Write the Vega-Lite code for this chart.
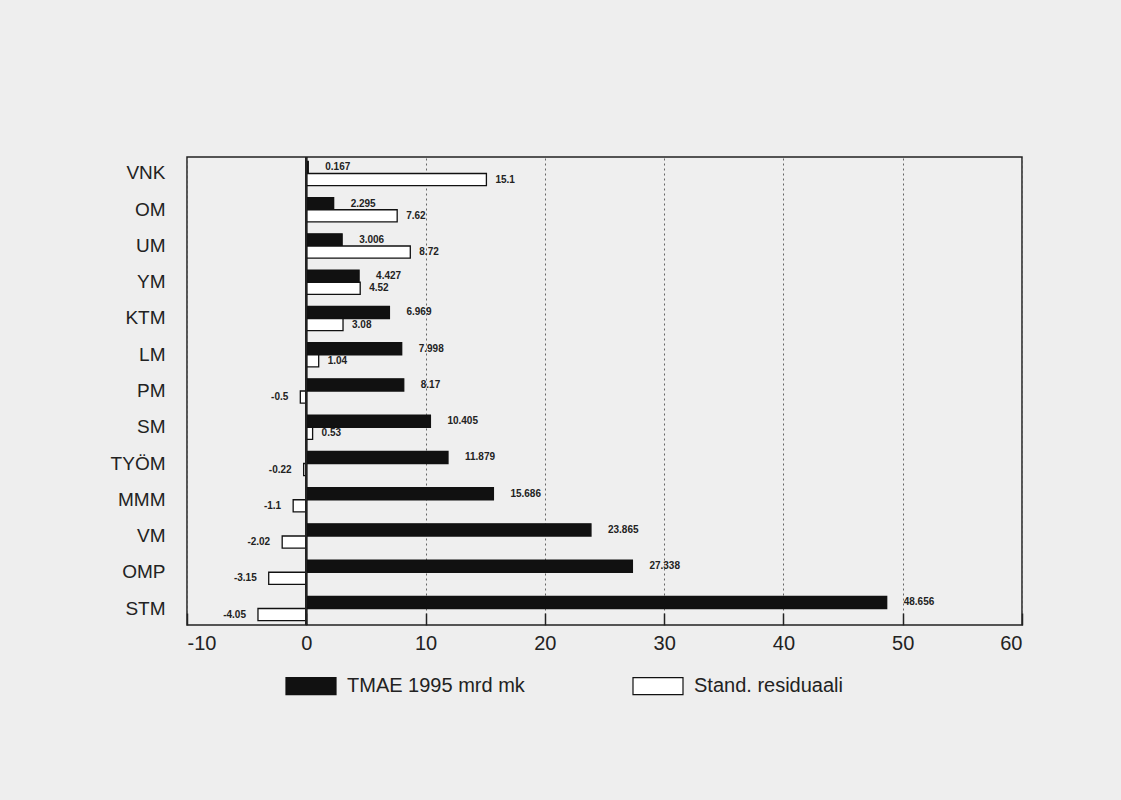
{
  "$schema": "https://vega.github.io/schema/vega-lite/v6.json",
  "width": 835,
  "height": 468,
  "autosize": {"type": "none"},
  "padding": {"left": 187, "top": 157, "right": 99, "bottom": 175},
  "background": "#eeeeee",
  "config": {
    "view": {"stroke": "#222222", "strokeWidth": 1.5, "fill": "#efefef"},
    "font": "Liberation Sans"
  },
  "data": {
    "values": [
      {"cat": "VNK", "series": "TMAE 1995 mrd mk", "value": 0.167},
      {"cat": "OM", "series": "TMAE 1995 mrd mk", "value": 2.295},
      {"cat": "UM", "series": "TMAE 1995 mrd mk", "value": 3.006},
      {"cat": "YM", "series": "TMAE 1995 mrd mk", "value": 4.427},
      {"cat": "KTM", "series": "TMAE 1995 mrd mk", "value": 6.969},
      {"cat": "LM", "series": "TMAE 1995 mrd mk", "value": 7.998},
      {"cat": "PM", "series": "TMAE 1995 mrd mk", "value": 8.17},
      {"cat": "SM", "series": "TMAE 1995 mrd mk", "value": 10.405},
      {"cat": "TYÖM", "series": "TMAE 1995 mrd mk", "value": 11.879},
      {"cat": "MMM", "series": "TMAE 1995 mrd mk", "value": 15.686},
      {"cat": "VM", "series": "TMAE 1995 mrd mk", "value": 23.865},
      {"cat": "OMP", "series": "TMAE 1995 mrd mk", "value": 27.338},
      {"cat": "STM", "series": "TMAE 1995 mrd mk", "value": 48.656},
      {"cat": "VNK", "series": "Stand. residuaali", "value": 15.1},
      {"cat": "OM", "series": "Stand. residuaali", "value": 7.62},
      {"cat": "UM", "series": "Stand. residuaali", "value": 8.72},
      {"cat": "YM", "series": "Stand. residuaali", "value": 4.52},
      {"cat": "KTM", "series": "Stand. residuaali", "value": 3.08},
      {"cat": "LM", "series": "Stand. residuaali", "value": 1.04},
      {"cat": "PM", "series": "Stand. residuaali", "value": -0.5},
      {"cat": "SM", "series": "Stand. residuaali", "value": 0.53},
      {"cat": "TYÖM", "series": "Stand. residuaali", "value": -0.22},
      {"cat": "MMM", "series": "Stand. residuaali", "value": -1.1},
      {"cat": "VM", "series": "Stand. residuaali", "value": -2.02},
      {"cat": "OMP", "series": "Stand. residuaali", "value": -3.15},
      {"cat": "STM", "series": "Stand. residuaali", "value": -4.05}
    ]
  },
  "layer": [
    {
      "mark": {"type": "bar", "stroke": "#111111", "strokeWidth": 1.3},
      "encoding": {
        "y": {
          "field": "cat", "type": "nominal",
          "sort": ["VNK","OM","UM","YM","KTM","LM","PM","SM","TYÖM","MMM","VM","OMP","STM"],
          "scale": {"paddingInner": 0.33, "paddingOuter": 0.12},
          "title": null,
          "axis": {"ticks": false, "domain": false, "labelPadding": 22, "labelFontSize": 19, "labelColor": "#222222", "labelFont": "Liberation Sans"}
        },
        "yOffset": {"field": "series", "type": "nominal", "sort": ["TMAE 1995 mrd mk", "Stand. residuaali"]},
        "x": {
          "field": "value", "type": "quantitative",
          "scale": {"domain": [-10, 60], "nice": false, "zero": false},
          "title": null,
          "axis": {"values": [-10,0,10,20,30,40,50,60], "labelExpr": "replace(datum.label, '\u2212', '-')", "tickSize": -12, "tickColor": "#222222", "tickWidth": 1.5, "domain": false, "labelPadding": 20, "labelFontSize": 20, "labelColor": "#222222", "grid": true, "gridDash": [2, 3], "gridColor": "#666666", "gridWidth": 1}
        },
        "fill": {
          "field": "series", "type": "nominal",
          "scale": {"domain": ["TMAE 1995 mrd mk", "Stand. residuaali"], "range": ["#111111", "#ffffff"]},
          "legend": {
            "orient": "none", "direction": "horizontal", "legendX": 98, "legendY": 503,
            "title": null,
            "symbolType": "M-1,-0.34 h2 v0.68 h-2 Z", "symbolSize": 2500,
            "symbolStrokeColor": "#111111", "symbolStrokeWidth": 1.2,
            "labelFontSize": 20, "labelColor": "#222222", "labelOffset": 10,
            "columnPadding": 105, "labelLimit": 400
          }
        }
      }
    },
    {
      "mark": {"type": "rule", "color": "#222222", "strokeWidth": 1.5},
      "encoding": {"x": {"datum": 0, "type": "quantitative"}}
    },
    {
      "transform": [{"filter": "datum.series == 'TMAE 1995 mrd mk'"}],
      "mark": {"type": "text", "align": "left", "baseline": "middle", "dx": 17, "fontSize": 10, "fontWeight": "bold", "color": "#222222"},
      "encoding": {
        "y": {"field": "cat", "type": "nominal", "sort": ["VNK","OM","UM","YM","KTM","LM","PM","SM","TYÖM","MMM","VM","OMP","STM"]},
        "yOffset": {"field": "series", "type": "nominal", "sort": ["TMAE 1995 mrd mk", "Stand. residuaali"]},
        "x": {"field": "value", "type": "quantitative"},
        "text": {"field": "value", "type": "nominal"}
      }
    },
    {
      "transform": [{"filter": "datum.series == 'Stand. residuaali' && datum.value > 0"}],
      "mark": {"type": "text", "align": "left", "baseline": "middle", "dx": 9, "fontSize": 10, "fontWeight": "bold", "color": "#222222"},
      "encoding": {
        "y": {"field": "cat", "type": "nominal", "sort": ["VNK","OM","UM","YM","KTM","LM","PM","SM","TYÖM","MMM","VM","OMP","STM"]},
        "yOffset": {"field": "series", "type": "nominal", "sort": ["TMAE 1995 mrd mk", "Stand. residuaali"]},
        "x": {"field": "value", "type": "quantitative"},
        "text": {"field": "value", "type": "nominal"}
      }
    },
    {
      "transform": [{"filter": "datum.series == 'Stand. residuaali' && datum.value < 0"}],
      "mark": {"type": "text", "align": "right", "baseline": "middle", "dx": -12, "fontSize": 10, "fontWeight": "bold", "color": "#222222"},
      "encoding": {
        "y": {"field": "cat", "type": "nominal", "sort": ["VNK","OM","UM","YM","KTM","LM","PM","SM","TYÖM","MMM","VM","OMP","STM"]},
        "yOffset": {"field": "series", "type": "nominal", "sort": ["TMAE 1995 mrd mk", "Stand. residuaali"]},
        "x": {"field": "value", "type": "quantitative"},
        "text": {"field": "value", "type": "nominal"}
      }
    }
  ]
}
